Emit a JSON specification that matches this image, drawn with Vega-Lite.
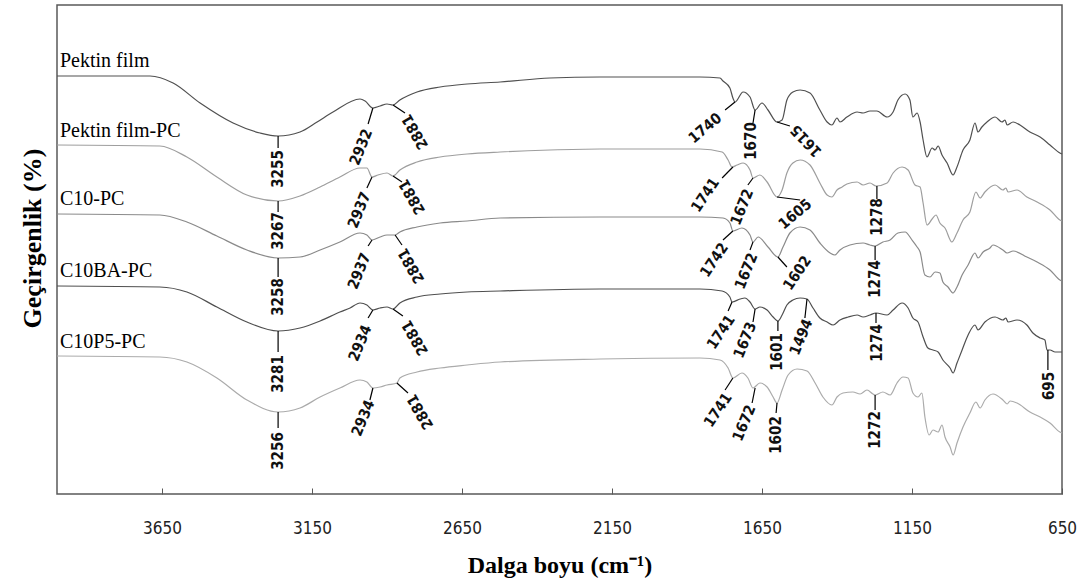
{
"$schema":"https://vega.github.io/schema/vega-lite/v6.json",
"width":1005,"height":489,
"autosize":{"type":"none"},
"padding":{"left":57,"top":5,"right":23,"bottom":91},
"background":"white",
"config":{"view":{"stroke":"#595959","strokeWidth":1.5},"font":"Liberation Serif"},
"datasets":{
"spectra":[
{"s":"Pektin film","w":4000,"t":418},{"s":"Pektin film","w":3690,"t":418},{"s":"Pektin film","w":3613,"t":411},{"s":"Pektin film","w":3523,"t":391},{"s":"Pektin film","w":3413,"t":371},{"s":"Pektin film","w":3323,"t":361},{"s":"Pektin film","w":3263,"t":358},{"s":"Pektin film","w":3190,"t":362},{"s":"Pektin film","w":3133,"t":372},{"s":"Pektin film","w":3080,"t":382},{"s":"Pektin film","w":2990,"t":395},{"s":"Pektin film","w":2973,"t":393},{"s":"Pektin film","w":2947,"t":386},{"s":"Pektin film","w":2923,"t":388},{"s":"Pektin film","w":2900,"t":390},{"s":"Pektin film","w":2880,"t":389},{"s":"Pektin film","w":2857,"t":394},{"s":"Pektin film","w":2800,"t":402},{"s":"Pektin film","w":2723,"t":407},{"s":"Pektin film","w":2633,"t":410},{"s":"Pektin film","w":2523,"t":412},{"s":"Pektin film","w":2357,"t":416},{"s":"Pektin film","w":2190,"t":417},{"s":"Pektin film","w":1857,"t":417},{"s":"Pektin film","w":1790,"t":416},{"s":"Pektin film","w":1780,"t":413},{"s":"Pektin film","w":1757,"t":406},{"s":"Pektin film","w":1747,"t":396},{"s":"Pektin film","w":1740,"t":392},{"s":"Pektin film","w":1713,"t":402},{"s":"Pektin film","w":1690,"t":397},{"s":"Pektin film","w":1673,"t":384},{"s":"Pektin film","w":1650,"t":391},{"s":"Pektin film","w":1630,"t":384},{"s":"Pektin film","w":1600,"t":372},{"s":"Pektin film","w":1583,"t":374},{"s":"Pektin film","w":1567,"t":394},{"s":"Pektin film","w":1547,"t":402},{"s":"Pektin film","w":1523,"t":404},{"s":"Pektin film","w":1490,"t":401},{"s":"Pektin film","w":1457,"t":384},{"s":"Pektin film","w":1433,"t":372},{"s":"Pektin film","w":1417,"t":369},{"s":"Pektin film","w":1400,"t":376},{"s":"Pektin film","w":1390,"t":372},{"s":"Pektin film","w":1367,"t":377},{"s":"Pektin film","w":1333,"t":382},{"s":"Pektin film","w":1313,"t":381},{"s":"Pektin film","w":1290,"t":383},{"s":"Pektin film","w":1267,"t":383},{"s":"Pektin film","w":1233,"t":377},{"s":"Pektin film","w":1213,"t":382},{"s":"Pektin film","w":1197,"t":394},{"s":"Pektin film","w":1173,"t":400},{"s":"Pektin film","w":1157,"t":394},{"s":"Pektin film","w":1147,"t":377},{"s":"Pektin film","w":1133,"t":381},{"s":"Pektin film","w":1123,"t":372},{"s":"Pektin film","w":1113,"t":354},{"s":"Pektin film","w":1100,"t":337},{"s":"Pektin film","w":1083,"t":346},{"s":"Pektin film","w":1073,"t":344},{"s":"Pektin film","w":1063,"t":348},{"s":"Pektin film","w":1050,"t":339},{"s":"Pektin film","w":1033,"t":331},{"s":"Pektin film","w":1013,"t":319},{"s":"Pektin film","w":1000,"t":327},{"s":"Pektin film","w":980,"t":344},{"s":"Pektin film","w":957,"t":354},{"s":"Pektin film","w":940,"t":371},{"s":"Pektin film","w":930,"t":362},{"s":"Pektin film","w":917,"t":367},{"s":"Pektin film","w":900,"t":372},{"s":"Pektin film","w":873,"t":377},{"s":"Pektin film","w":850,"t":372},{"s":"Pektin film","w":840,"t":374},{"s":"Pektin film","w":833,"t":369},{"s":"Pektin film","w":813,"t":372},{"s":"Pektin film","w":790,"t":369},{"s":"Pektin film","w":757,"t":362},{"s":"Pektin film","w":723,"t":357},{"s":"Pektin film","w":690,"t":349},{"s":"Pektin film","w":657,"t":341},{"s":"Pektin film","w":650,"t":340},
{"s":"Pektin film-PC","w":4000,"t":349},{"s":"Pektin film-PC","w":3657,"t":348},{"s":"Pektin film-PC","w":3567,"t":337},{"s":"Pektin film-PC","w":3467,"t":317},{"s":"Pektin film-PC","w":3367,"t":299},{"s":"Pektin film-PC","w":3263,"t":293},{"s":"Pektin film-PC","w":3190,"t":298},{"s":"Pektin film-PC","w":3123,"t":307},{"s":"Pektin film-PC","w":3057,"t":317},{"s":"Pektin film-PC","w":2990,"t":326},{"s":"Pektin film-PC","w":2967,"t":326},{"s":"Pektin film-PC","w":2950,"t":317},{"s":"Pektin film-PC","w":2930,"t":319},{"s":"Pektin film-PC","w":2900,"t":321},{"s":"Pektin film-PC","w":2880,"t":318},{"s":"Pektin film-PC","w":2857,"t":324},{"s":"Pektin film-PC","w":2800,"t":332},{"s":"Pektin film-PC","w":2723,"t":337},{"s":"Pektin film-PC","w":2633,"t":340},{"s":"Pektin film-PC","w":2523,"t":342},{"s":"Pektin film-PC","w":2357,"t":344},{"s":"Pektin film-PC","w":2190,"t":345},{"s":"Pektin film-PC","w":1857,"t":345},{"s":"Pektin film-PC","w":1783,"t":342},{"s":"Pektin film-PC","w":1763,"t":334},{"s":"Pektin film-PC","w":1750,"t":327},{"s":"Pektin film-PC","w":1733,"t":329},{"s":"Pektin film-PC","w":1713,"t":331},{"s":"Pektin film-PC","w":1690,"t":324},{"s":"Pektin film-PC","w":1680,"t":316},{"s":"Pektin film-PC","w":1657,"t":319},{"s":"Pektin film-PC","w":1633,"t":312},{"s":"Pektin film-PC","w":1600,"t":297},{"s":"Pektin film-PC","w":1583,"t":304},{"s":"Pektin film-PC","w":1567,"t":321},{"s":"Pektin film-PC","w":1547,"t":331},{"s":"Pektin film-PC","w":1523,"t":334},{"s":"Pektin film-PC","w":1490,"t":329},{"s":"Pektin film-PC","w":1457,"t":311},{"s":"Pektin film-PC","w":1433,"t":299},{"s":"Pektin film-PC","w":1417,"t":297},{"s":"Pektin film-PC","w":1400,"t":304},{"s":"Pektin film-PC","w":1383,"t":307},{"s":"Pektin film-PC","w":1367,"t":310},{"s":"Pektin film-PC","w":1333,"t":312},{"s":"Pektin film-PC","w":1313,"t":309},{"s":"Pektin film-PC","w":1290,"t":311},{"s":"Pektin film-PC","w":1270,"t":308},{"s":"Pektin film-PC","w":1233,"t":311},{"s":"Pektin film-PC","w":1213,"t":321},{"s":"Pektin film-PC","w":1183,"t":327},{"s":"Pektin film-PC","w":1163,"t":324},{"s":"Pektin film-PC","w":1140,"t":309},{"s":"Pektin film-PC","w":1123,"t":307},{"s":"Pektin film-PC","w":1113,"t":291},{"s":"Pektin film-PC","w":1100,"t":269},{"s":"Pektin film-PC","w":1083,"t":275},{"s":"Pektin film-PC","w":1070,"t":279},{"s":"Pektin film-PC","w":1057,"t":271},{"s":"Pektin film-PC","w":1040,"t":266},{"s":"Pektin film-PC","w":1017,"t":252},{"s":"Pektin film-PC","w":1000,"t":261},{"s":"Pektin film-PC","w":980,"t":274},{"s":"Pektin film-PC","w":957,"t":282},{"s":"Pektin film-PC","w":937,"t":302},{"s":"Pektin film-PC","w":923,"t":296},{"s":"Pektin film-PC","w":907,"t":302},{"s":"Pektin film-PC","w":873,"t":309},{"s":"Pektin film-PC","w":847,"t":304},{"s":"Pektin film-PC","w":837,"t":306},{"s":"Pektin film-PC","w":830,"t":302},{"s":"Pektin film-PC","w":800,"t":304},{"s":"Pektin film-PC","w":767,"t":297},{"s":"Pektin film-PC","w":733,"t":292},{"s":"Pektin film-PC","w":690,"t":284},{"s":"Pektin film-PC","w":657,"t":274},{"s":"Pektin film-PC","w":650,"t":273},
{"s":"C10-PC","w":4000,"t":280},{"s":"C10-PC","w":3657,"t":279},{"s":"C10-PC","w":3567,"t":272},{"s":"C10-PC","w":3467,"t":258},{"s":"C10-PC","w":3367,"t":244},{"s":"C10-PC","w":3263,"t":236},{"s":"C10-PC","w":3190,"t":237},{"s":"C10-PC","w":3123,"t":244},{"s":"C10-PC","w":3057,"t":252},{"s":"C10-PC","w":2990,"t":261},{"s":"C10-PC","w":2967,"t":259},{"s":"C10-PC","w":2950,"t":254},{"s":"C10-PC","w":2923,"t":257},{"s":"C10-PC","w":2900,"t":259},{"s":"C10-PC","w":2873,"t":259},{"s":"C10-PC","w":2857,"t":262},{"s":"C10-PC","w":2800,"t":267},{"s":"C10-PC","w":2723,"t":271},{"s":"C10-PC","w":2633,"t":273},{"s":"C10-PC","w":2523,"t":276},{"s":"C10-PC","w":2190,"t":277},{"s":"C10-PC","w":1857,"t":277},{"s":"C10-PC","w":1780,"t":276},{"s":"C10-PC","w":1757,"t":271},{"s":"C10-PC","w":1747,"t":263},{"s":"C10-PC","w":1717,"t":266},{"s":"C10-PC","w":1690,"t":259},{"s":"C10-PC","w":1680,"t":252},{"s":"C10-PC","w":1663,"t":257},{"s":"C10-PC","w":1630,"t":247},{"s":"C10-PC","w":1597,"t":237},{"s":"C10-PC","w":1580,"t":247},{"s":"C10-PC","w":1557,"t":261},{"s":"C10-PC","w":1523,"t":267},{"s":"C10-PC","w":1490,"t":264},{"s":"C10-PC","w":1457,"t":251},{"s":"C10-PC","w":1423,"t":241},{"s":"C10-PC","w":1407,"t":239},{"s":"C10-PC","w":1390,"t":244},{"s":"C10-PC","w":1357,"t":249},{"s":"C10-PC","w":1313,"t":251},{"s":"C10-PC","w":1290,"t":249},{"s":"C10-PC","w":1273,"t":248},{"s":"C10-PC","w":1247,"t":252},{"s":"C10-PC","w":1223,"t":254},{"s":"C10-PC","w":1197,"t":261},{"s":"C10-PC","w":1173,"t":262},{"s":"C10-PC","w":1150,"t":254},{"s":"C10-PC","w":1133,"t":247},{"s":"C10-PC","w":1123,"t":242},{"s":"C10-PC","w":1107,"t":219},{"s":"C10-PC","w":1090,"t":217},{"s":"C10-PC","w":1073,"t":222},{"s":"C10-PC","w":1057,"t":221},{"s":"C10-PC","w":1047,"t":212},{"s":"C10-PC","w":1030,"t":207},{"s":"C10-PC","w":1013,"t":201},{"s":"C10-PC","w":1000,"t":207},{"s":"C10-PC","w":983,"t":219},{"s":"C10-PC","w":963,"t":229},{"s":"C10-PC","w":940,"t":241},{"s":"C10-PC","w":930,"t":236},{"s":"C10-PC","w":913,"t":242},{"s":"C10-PC","w":890,"t":246},{"s":"C10-PC","w":880,"t":249},{"s":"C10-PC","w":847,"t":244},{"s":"C10-PC","w":833,"t":241},{"s":"C10-PC","w":813,"t":243},{"s":"C10-PC","w":767,"t":237},{"s":"C10-PC","w":733,"t":232},{"s":"C10-PC","w":690,"t":224},{"s":"C10-PC","w":657,"t":214},{"s":"C10-PC","w":650,"t":213},
{"s":"C10BA-PC","w":4000,"t":208},{"s":"C10BA-PC","w":3657,"t":207},{"s":"C10BA-PC","w":3567,"t":202},{"s":"C10BA-PC","w":3467,"t":187},{"s":"C10BA-PC","w":3367,"t":172},{"s":"C10BA-PC","w":3263,"t":163},{"s":"C10BA-PC","w":3190,"t":166},{"s":"C10BA-PC","w":3123,"t":173},{"s":"C10BA-PC","w":3057,"t":182},{"s":"C10BA-PC","w":3023,"t":186},{"s":"C10BA-PC","w":2990,"t":191},{"s":"C10BA-PC","w":2967,"t":189},{"s":"C10BA-PC","w":2947,"t":184},{"s":"C10BA-PC","w":2923,"t":186},{"s":"C10BA-PC","w":2900,"t":187},{"s":"C10BA-PC","w":2880,"t":185},{"s":"C10BA-PC","w":2857,"t":191},{"s":"C10BA-PC","w":2800,"t":197},{"s":"C10BA-PC","w":2723,"t":200},{"s":"C10BA-PC","w":2633,"t":202},{"s":"C10BA-PC","w":2523,"t":203},{"s":"C10BA-PC","w":2190,"t":205},{"s":"C10BA-PC","w":1857,"t":205},{"s":"C10BA-PC","w":1783,"t":203},{"s":"C10BA-PC","w":1757,"t":197},{"s":"C10BA-PC","w":1750,"t":192},{"s":"C10BA-PC","w":1723,"t":195},{"s":"C10BA-PC","w":1707,"t":196},{"s":"C10BA-PC","w":1690,"t":192},{"s":"C10BA-PC","w":1673,"t":185},{"s":"C10BA-PC","w":1657,"t":187},{"s":"C10BA-PC","w":1633,"t":184},{"s":"C10BA-PC","w":1613,"t":177},{"s":"C10BA-PC","w":1597,"t":173},{"s":"C10BA-PC","w":1583,"t":179},{"s":"C10BA-PC","w":1567,"t":189},{"s":"C10BA-PC","w":1547,"t":194},{"s":"C10BA-PC","w":1523,"t":196},{"s":"C10BA-PC","w":1500,"t":195},{"s":"C10BA-PC","w":1480,"t":186},{"s":"C10BA-PC","w":1457,"t":176},{"s":"C10BA-PC","w":1433,"t":172},{"s":"C10BA-PC","w":1413,"t":169},{"s":"C10BA-PC","w":1390,"t":174},{"s":"C10BA-PC","w":1363,"t":177},{"s":"C10BA-PC","w":1333,"t":179},{"s":"C10BA-PC","w":1313,"t":177},{"s":"C10BA-PC","w":1290,"t":179},{"s":"C10BA-PC","w":1270,"t":181},{"s":"C10BA-PC","w":1233,"t":179},{"s":"C10BA-PC","w":1213,"t":184},{"s":"C10BA-PC","w":1183,"t":191},{"s":"C10BA-PC","w":1163,"t":186},{"s":"C10BA-PC","w":1147,"t":176},{"s":"C10BA-PC","w":1130,"t":172},{"s":"C10BA-PC","w":1113,"t":157},{"s":"C10BA-PC","w":1097,"t":146},{"s":"C10BA-PC","w":1080,"t":144},{"s":"C10BA-PC","w":1063,"t":142},{"s":"C10BA-PC","w":1047,"t":134},{"s":"C10BA-PC","w":1023,"t":126},{"s":"C10BA-PC","w":1013,"t":121},{"s":"C10BA-PC","w":1000,"t":131},{"s":"C10BA-PC","w":983,"t":144},{"s":"C10BA-PC","w":963,"t":159},{"s":"C10BA-PC","w":940,"t":169},{"s":"C10BA-PC","w":930,"t":164},{"s":"C10BA-PC","w":907,"t":172},{"s":"C10BA-PC","w":873,"t":177},{"s":"C10BA-PC","w":847,"t":174},{"s":"C10BA-PC","w":837,"t":176},{"s":"C10BA-PC","w":830,"t":172},{"s":"C10BA-PC","w":800,"t":174},{"s":"C10BA-PC","w":767,"t":169},{"s":"C10BA-PC","w":747,"t":161},{"s":"C10BA-PC","w":723,"t":156},{"s":"C10BA-PC","w":707,"t":154},{"s":"C10BA-PC","w":700,"t":144},{"s":"C10BA-PC","w":690,"t":144},{"s":"C10BA-PC","w":673,"t":142},{"s":"C10BA-PC","w":650,"t":142},
{"s":"C10P5-PC","w":4000,"t":138},{"s":"C10P5-PC","w":3657,"t":137},{"s":"C10P5-PC","w":3567,"t":132},{"s":"C10P5-PC","w":3467,"t":116},{"s":"C10P5-PC","w":3367,"t":94},{"s":"C10P5-PC","w":3263,"t":82},{"s":"C10P5-PC","w":3190,"t":86},{"s":"C10P5-PC","w":3123,"t":97},{"s":"C10P5-PC","w":3057,"t":106},{"s":"C10P5-PC","w":2990,"t":114},{"s":"C10P5-PC","w":2967,"t":112},{"s":"C10P5-PC","w":2947,"t":106},{"s":"C10P5-PC","w":2923,"t":107},{"s":"C10P5-PC","w":2900,"t":109},{"s":"C10P5-PC","w":2867,"t":111},{"s":"C10P5-PC","w":2857,"t":116},{"s":"C10P5-PC","w":2800,"t":122},{"s":"C10P5-PC","w":2723,"t":126},{"s":"C10P5-PC","w":2633,"t":129},{"s":"C10P5-PC","w":2523,"t":132},{"s":"C10P5-PC","w":2190,"t":135},{"s":"C10P5-PC","w":1857,"t":136},{"s":"C10P5-PC","w":1790,"t":134},{"s":"C10P5-PC","w":1763,"t":126},{"s":"C10P5-PC","w":1747,"t":116},{"s":"C10P5-PC","w":1717,"t":121},{"s":"C10P5-PC","w":1697,"t":116},{"s":"C10P5-PC","w":1680,"t":106},{"s":"C10P5-PC","w":1657,"t":111},{"s":"C10P5-PC","w":1633,"t":107},{"s":"C10P5-PC","w":1613,"t":97},{"s":"C10P5-PC","w":1600,"t":91},{"s":"C10P5-PC","w":1583,"t":104},{"s":"C10P5-PC","w":1563,"t":119},{"s":"C10P5-PC","w":1533,"t":125},{"s":"C10P5-PC","w":1500,"t":123},{"s":"C10P5-PC","w":1473,"t":111},{"s":"C10P5-PC","w":1447,"t":97},{"s":"C10P5-PC","w":1417,"t":89},{"s":"C10P5-PC","w":1400,"t":97},{"s":"C10P5-PC","w":1380,"t":101},{"s":"C10P5-PC","w":1347,"t":102},{"s":"C10P5-PC","w":1323,"t":100},{"s":"C10P5-PC","w":1300,"t":104},{"s":"C10P5-PC","w":1280,"t":100},{"s":"C10P5-PC","w":1273,"t":99},{"s":"C10P5-PC","w":1247,"t":102},{"s":"C10P5-PC","w":1223,"t":99},{"s":"C10P5-PC","w":1200,"t":111},{"s":"C10P5-PC","w":1180,"t":117},{"s":"C10P5-PC","w":1163,"t":116},{"s":"C10P5-PC","w":1147,"t":101},{"s":"C10P5-PC","w":1130,"t":97},{"s":"C10P5-PC","w":1117,"t":101},{"s":"C10P5-PC","w":1107,"t":77},{"s":"C10P5-PC","w":1093,"t":59},{"s":"C10P5-PC","w":1080,"t":64},{"s":"C10P5-PC","w":1063,"t":62},{"s":"C10P5-PC","w":1050,"t":69},{"s":"C10P5-PC","w":1040,"t":57},{"s":"C10P5-PC","w":1023,"t":47},{"s":"C10P5-PC","w":1013,"t":39},{"s":"C10P5-PC","w":1000,"t":51},{"s":"C10P5-PC","w":980,"t":67},{"s":"C10P5-PC","w":957,"t":81},{"s":"C10P5-PC","w":937,"t":92},{"s":"C10P5-PC","w":923,"t":86},{"s":"C10P5-PC","w":907,"t":94},{"s":"C10P5-PC","w":880,"t":100},{"s":"C10P5-PC","w":847,"t":94},{"s":"C10P5-PC","w":833,"t":90},{"s":"C10P5-PC","w":823,"t":93},{"s":"C10P5-PC","w":800,"t":91},{"s":"C10P5-PC","w":757,"t":82},{"s":"C10P5-PC","w":723,"t":77},{"s":"C10P5-PC","w":690,"t":71},{"s":"C10P5-PC","w":657,"t":62},{"s":"C10P5-PC","w":650,"t":61}
],
"peaks":[
{"s":"Pektin film","lab":"3255","w":3263,"t":358,"w2":3263,"t2":346,"lw":3263,"lt":325,"dir":"up"},
{"s":"Pektin film","lab":"2932","w":2947,"t":386,"w2":2963,"t2":370,"lw":2987,"lt":347,"dir":"steep"},
{"s":"Pektin film","lab":"2881","w":2880,"t":389,"w2":2840,"t2":381,"lw":2807,"lt":362,"dir":"back"},
{"s":"Pektin film","lab":"1740","w":1740,"t":392,"w2":1773,"t2":384,"lw":1840,"lt":366,"dir":"low"},
{"s":"Pektin film","lab":"1670","w":1673,"t":384,"w2":1680,"t2":371,"lw":1687,"lt":353,"dir":"up"},
{"s":"Pektin film","lab":"1615","w":1600,"t":372,"w2":1557,"t2":368,"lw":1503,"lt":353,"dir":"flip"},
{"s":"Pektin film-PC","lab":"3267","w":3263,"t":293,"w2":3263,"t2":282,"lw":3263,"lt":263,"dir":"up"},
{"s":"Pektin film-PC","lab":"2937","w":2950,"t":317,"w2":2967,"t2":306,"lw":2993,"lt":284,"dir":"steep"},
{"s":"Pektin film-PC","lab":"2881","w":2880,"t":318,"w2":2850,"t2":312,"lw":2817,"lt":297,"dir":"back"},
{"s":"Pektin film-PC","lab":"1741","w":1747,"t":327,"w2":1783,"t2":316,"lw":1840,"lt":299,"dir":"tilt"},
{"s":"Pektin film-PC","lab":"1672","w":1680,"t":316,"w2":1697,"t2":309,"lw":1717,"lt":287,"dir":"steep"},
{"s":"Pektin film-PC","lab":"1605","w":1600,"t":297,"w2":1523,"t2":294,"lw":1540,"lt":280,"dir":"low"},
{"s":"Pektin film-PC","lab":"1278","w":1267,"t":308,"w2":1267,"t2":295,"lw":1267,"lt":277,"dir":"up"},
{"s":"C10-PC","lab":"3258","w":3263,"t":236,"w2":3263,"t2":217,"lw":3263,"lt":197,"dir":"up"},
{"s":"C10-PC","lab":"2937","w":2950,"t":254,"w2":2963,"t2":248,"lw":2993,"lt":223,"dir":"steep"},
{"s":"C10-PC","lab":"2881","w":2873,"t":259,"w2":2850,"t2":249,"lw":2820,"lt":228,"dir":"back"},
{"s":"C10-PC","lab":"1742","w":1747,"t":263,"w2":1780,"t2":254,"lw":1810,"lt":234,"dir":"tilt"},
{"s":"C10-PC","lab":"1672","w":1680,"t":252,"w2":1690,"t2":244,"lw":1703,"lt":223,"dir":"steep"},
{"s":"C10-PC","lab":"1602","w":1597,"t":237,"w2":1567,"t2":227,"lw":1533,"lt":221,"dir":"tilt"},
{"s":"C10-PC","lab":"1274","w":1273,"t":248,"w2":1273,"t2":234,"lw":1273,"lt":215,"dir":"up"},
{"s":"C10BA-PC","lab":"3281","w":3263,"t":163,"w2":3263,"t2":142,"lw":3263,"lt":120,"dir":"up"},
{"s":"C10BA-PC","lab":"2934","w":2947,"t":184,"w2":2963,"t2":176,"lw":2990,"lt":151,"dir":"steep"},
{"s":"C10BA-PC","lab":"2881","w":2880,"t":185,"w2":2847,"t2":178,"lw":2807,"lt":156,"dir":"back"},
{"s":"C10BA-PC","lab":"1741","w":1750,"t":192,"w2":1763,"t2":183,"lw":1787,"lt":162,"dir":"tilt"},
{"s":"C10BA-PC","lab":"1673","w":1673,"t":185,"w2":1680,"t2":172,"lw":1707,"lt":154,"dir":"steep"},
{"s":"C10BA-PC","lab":"1601","w":1597,"t":173,"w2":1597,"t2":163,"lw":1600,"lt":142,"dir":"up"},
{"s":"C10BA-PC","lab":"1494","w":1500,"t":195,"w2":1507,"t2":176,"lw":1520,"lt":157,"dir":"steep"},
{"s":"C10BA-PC","lab":"1274","w":1270,"t":181,"w2":1270,"t2":171,"lw":1267,"lt":151,"dir":"up"},
{"s":"C10BA-PC","lab":"695","w":697,"t":144,"w2":697,"t2":124,"lw":693,"lt":108,"dir":"up"},
{"s":"C10P5-PC","lab":"3256","w":3263,"t":82,"w2":3263,"t2":66,"lw":3263,"lt":43,"dir":"up"},
{"s":"C10P5-PC","lab":"2934","w":2947,"t":106,"w2":2957,"t2":94,"lw":2980,"lt":76,"dir":"steep"},
{"s":"C10P5-PC","lab":"2881","w":2867,"t":111,"w2":2830,"t2":101,"lw":2790,"lt":82,"dir":"back"},
{"s":"C10P5-PC","lab":"1741","w":1747,"t":116,"w2":1773,"t2":104,"lw":1797,"lt":84,"dir":"tilt"},
{"s":"C10P5-PC","lab":"1672","w":1673,"t":106,"w2":1683,"t2":91,"lw":1710,"lt":71,"dir":"steep"},
{"s":"C10P5-PC","lab":"1602","w":1600,"t":91,"w2":1603,"t2":81,"lw":1603,"lt":59,"dir":"up"},
{"s":"C10P5-PC","lab":"1272","w":1273,"t":99,"w2":1273,"t2":84,"lw":1273,"lt":64,"dir":"up"}
],
"names":[
{"s":"Pektin film","w":3990,"t":427},
{"s":"Pektin film-PC","w":3990,"t":357},
{"s":"C10-PC","w":3990,"t":289},
{"s":"C10BA-PC","w":3990,"t":217},
{"s":"C10P5-PC","w":3990,"t":146}
]
},
"layer":[
{"data":{"name":"spectra"},
 "mark":{"type":"line","interpolate":"monotone","strokeWidth":1.2},
 "encoding":{
  "x":{"field":"w","type":"quantitative","scale":{"domain":[650,4000],"reverse":true,"nice":false,"zero":false},
   "axis":{"values":[3650,3150,2650,2150,1650,1150,650],"format":"d","grid":false,"domain":false,"tickSize":-6,"tickColor":"#595959","tickWidth":1,"labelFont":"DejaVu Sans Condensed","labelFontSize":17,"labelColor":"#222222","labelPadding":32,"labelFlush":false,"title":"Dalga boyu (cm⁻¹)","titleFont":"Liberation Serif","titleFontSize":24,"titleFontWeight":"bold","titleColor":"black","titlePadding":17}},
  "y":{"field":"t","type":"quantitative","scale":{"domain":[0,489],"nice":false,"zero":false},
   "axis":{"labels":false,"ticks":false,"domain":false,"grid":false,"title":"Geçirgenlik (%)","titleFont":"Liberation Serif","titleFontSize":26,"titleFontWeight":"bold","titleColor":"black","titlePadding":12,"titleY":233}},
  "color":{"field":"s","type":"nominal","legend":null,"scale":{"domain":["Pektin film","Pektin film-PC","C10-PC","C10BA-PC","C10P5-PC"],"range":["#505050","#9e9e9e","#8a8a8a","#4f4f4f","#ababab"]}}
 }},
{"data":{"name":"peaks"},
 "mark":{"type":"rule","color":"black","strokeWidth":1.2},
 "encoding":{"x":{"field":"w","type":"quantitative"},"y":{"field":"t","type":"quantitative"},"x2":{"field":"w2"},"y2":{"field":"t2"}}},
{"data":{"name":"peaks"},"transform":[{"filter":"datum.dir === 'up'"}],
 "mark":{"type":"text","font":"DejaVu Sans Condensed","fontSize":15,"fontWeight":"bold","align":"center","baseline":"middle","color":"#111111","angle":-90},
 "encoding":{"x":{"field":"lw","type":"quantitative"},"y":{"field":"lt","type":"quantitative"},"text":{"field":"lab"}}},
{"data":{"name":"peaks"},"transform":[{"filter":"datum.dir === 'steep'"}],
 "mark":{"type":"text","font":"DejaVu Sans Condensed","fontSize":15,"fontWeight":"bold","align":"center","baseline":"middle","color":"#111111","angle":-68},
 "encoding":{"x":{"field":"lw","type":"quantitative"},"y":{"field":"lt","type":"quantitative"},"text":{"field":"lab"}}},
{"data":{"name":"peaks"},"transform":[{"filter":"datum.dir === 'tilt'"}],
 "mark":{"type":"text","font":"DejaVu Sans Condensed","fontSize":15,"fontWeight":"bold","align":"center","baseline":"middle","color":"#111111","angle":-56},
 "encoding":{"x":{"field":"lw","type":"quantitative"},"y":{"field":"lt","type":"quantitative"},"text":{"field":"lab"}}},
{"data":{"name":"peaks"},"transform":[{"filter":"datum.dir === 'low'"}],
 "mark":{"type":"text","font":"DejaVu Sans Condensed","fontSize":15,"fontWeight":"bold","align":"center","baseline":"middle","color":"#111111","angle":-40},
 "encoding":{"x":{"field":"lw","type":"quantitative"},"y":{"field":"lt","type":"quantitative"},"text":{"field":"lab"}}},
{"data":{"name":"peaks"},"transform":[{"filter":"datum.dir === 'back'"}],
 "mark":{"type":"text","font":"DejaVu Sans Condensed","fontSize":15,"fontWeight":"bold","align":"center","baseline":"middle","color":"#111111","angle":-120},
 "encoding":{"x":{"field":"lw","type":"quantitative"},"y":{"field":"lt","type":"quantitative"},"text":{"field":"lab"}}},
{"data":{"name":"peaks"},"transform":[{"filter":"datum.dir === 'flip'"}],
 "mark":{"type":"text","font":"DejaVu Sans Condensed","fontSize":15,"fontWeight":"bold","align":"center","baseline":"middle","color":"#111111","angle":-133},
 "encoding":{"x":{"field":"lw","type":"quantitative"},"y":{"field":"lt","type":"quantitative"},"text":{"field":"lab"}}},
{"data":{"name":"names"},
 "mark":{"type":"text","font":"Liberation Serif","fontSize":20,"align":"left","baseline":"alphabetic","color":"black"},
 "encoding":{"x":{"field":"w","type":"quantitative"},"y":{"field":"t","type":"quantitative"},"text":{"field":"s"}}}
]
}
